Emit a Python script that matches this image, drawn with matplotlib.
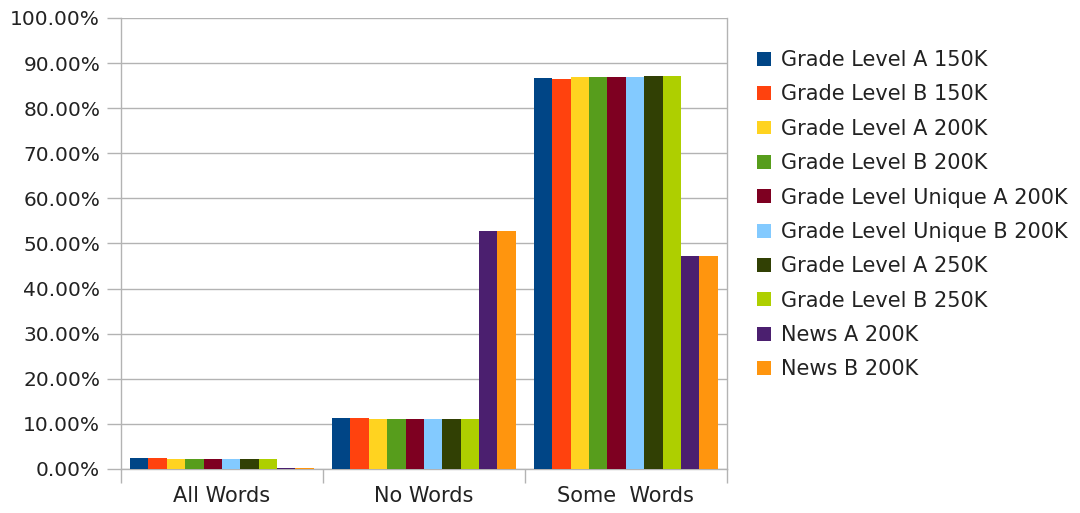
import numpy as np
import matplotlib
matplotlib.use("Agg")
import matplotlib.pyplot as plt
from matplotlib.ticker import FuncFormatter, FixedLocator

plt.rcParams['font.family'] = ['DejaVu Sans']

# data (percent)
categories = ["All Words", "No Words", "Some  Words"]
series = ["Grade Level A 150K", "Grade Level B 150K", "Grade Level A 200K",
          "Grade Level B 200K", "Grade Level Unique A 200K", "Grade Level Unique B 200K",
          "Grade Level A 250K", "Grade Level B 250K", "News A 200K", "News B 200K"]
all_words = [2.4, 2.4, 2.3, 2.3, 2.2, 2.3, 2.3, 2.3, 0.2, 0.2]
no_words = [11.3, 11.3, 11.1, 11.0, 11.1, 11.1, 11.0, 11.0, 52.8, 52.8]
some_words = [86.6, 86.5, 86.9, 86.9, 87.0, 86.9, 87.1, 87.1, 47.2, 47.2]
colors = ["#004586", "#ff420e", "#ffd320", "#579d1c", "#7e0021",
          "#83caff", "#314004", "#aecf00", "#4b1f6f", "#ff950e"]

values = np.array([all_words, no_words, some_words])  # rows = categories

fig = plt.figure(figsize=(10.8, 5.13), dpi=100)
ax = fig.add_axes([0.112, 0.086, 0.561, 0.879])

n = len(series)
w = 0.91 / n
x = np.arange(len(categories))
handles = []
for i in range(n):
    b = ax.bar(x - 0.455 + w * (i + 0.5), values[:, i], width=w,
               color=colors[i], label=series[i], zorder=3)
    handles.append(b)

grey = "#b3b3b3"
txt = "#222222"
ax.set_ylim(0, 100)
ax.set_xlim(-0.5, 2.5)
ax.set_yticks(np.arange(0, 101, 10))
ax.yaxis.set_major_formatter(FuncFormatter(lambda v, p: "%.2f%%" % v))
ax.yaxis.grid(True, color=grey, linewidth=1, zorder=0)
ax.set_xticks(x)
ax.set_xticklabels(categories)
ax.xaxis.set_minor_locator(FixedLocator([-0.5, 0.5, 1.5, 2.5]))
ax.tick_params(axis='x', which='major', length=0, pad=12, labelsize=15, labelcolor=txt)
ax.tick_params(axis='x', which='minor', length=10, color=grey, width=1)
ax.tick_params(axis='y', length=10, color=grey, width=1, labelsize=14.5, labelcolor=txt, pad=5)
for s in ["left", "bottom", "right"]:
    ax.spines[s].set_color(grey)
    ax.spines[s].set_linewidth(1)
ax.spines["top"].set_visible(False)

fig.legend(handles=handles, loc="upper left", bbox_to_anchor=(0.684, 0.939),
           frameon=False, fontsize=15, handlelength=0.65, handleheight=0.65,
           handletextpad=0.5, labelspacing=0.69, labelcolor=txt)

fig.savefig("out.png", dpi=100)
